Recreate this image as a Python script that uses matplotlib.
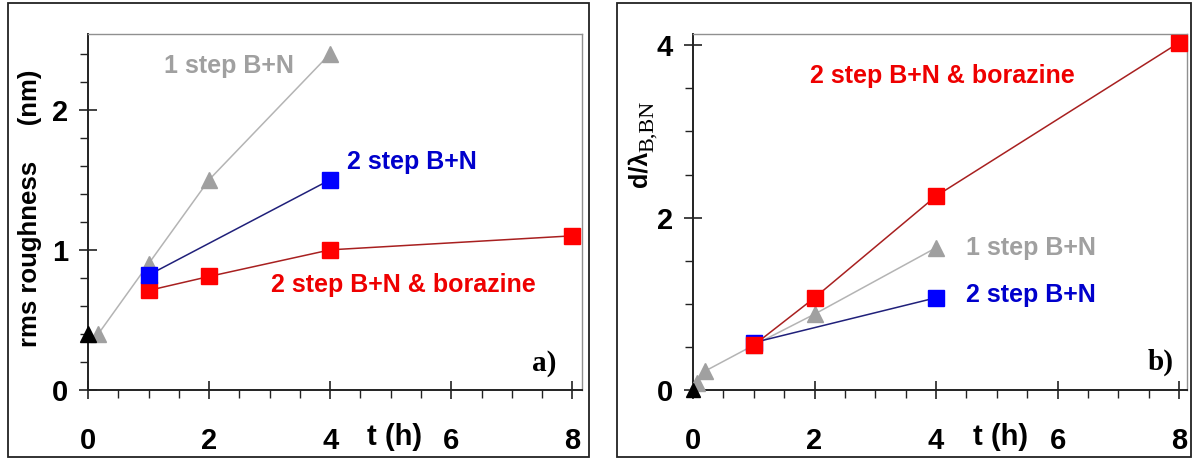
import matplotlib
matplotlib.use('Agg')
import matplotlib.pyplot as plt
from matplotlib.patches import Rectangle
from matplotlib.ticker import MultipleLocator
import matplotlib.transforms as mtransforms

# panel a) rms roughness (nm) vs t (h)
a_ref_x = [0]
a_ref_y = [0.4]
a_one_x = [0.17, 1, 2, 4]
a_one_y = [0.4, 0.9, 1.5, 2.4]
a_two_x = [1, 4]
a_two_y = [0.82, 1.5]
a_bor_x = [1, 2, 4, 8]
a_bor_y = [0.71, 0.81, 1.0, 1.1]

# panel b) d/lambda vs t (h)
b_ref_x = [0]
b_ref_y = [0.0]
b_one_x = [0.07, 0.2, 1, 2, 4]
b_one_y = [0.08, 0.22, 0.52, 0.88, 1.65]
b_two_x = [1, 4]
b_two_y = [0.55, 1.07]
b_bor_x = [1, 2, 4, 8]
b_bor_y = [0.52, 1.07, 2.25, 4.03]

xticks = [0, 2, 4, 6, 8]
label_one = '1 step B+N'
label_two = '2 step B+N'
label_bor = '2 step B+N & borazine'

GRAY = '#a0a0a0'
GRAY_LINE = '#b4b4b4'
BLUE = '#0000ff'
BLUE_LINE = '#20207a'
RED = '#ff0000'
RED_LINE = '#a82020'
SANS = ['Liberation Sans', 'DejaVu Sans']
SERIF = ['Liberation Serif', 'DejaVu Serif']

plt.rcParams['font.family'] = SANS
plt.rcParams['font.weight'] = 'bold'

W, H = 1195, 459
fig = plt.figure(figsize=(W / 100, H / 100), dpi=100)


def fx(px):
    return px / W


def fy(py):
    return 1 - py / H


# outer boxes around each panel
for x0, x1 in [(8, 589), (617, 1191)]:
    fig.patches.append(Rectangle((fx(x0), fy(457)), fx(x1 - x0), (457 - 3) / H,
                                 transform=fig.transFigure, fill=False,
                                 edgecolor='#222222', linewidth=1.3))


def style_axes(ax, xmax, ymax, ymajor, yminor):
    ax.set_xlim(0, xmax)
    ax.set_ylim(0, ymax)
    ax.set_xticks(xticks)
    ax.xaxis.set_minor_locator(MultipleLocator(0.5))
    ax.yaxis.set_major_locator(MultipleLocator(ymajor))
    ax.yaxis.set_minor_locator(MultipleLocator(yminor))
    ax.tick_params(which='major', direction='inout', length=13, width=1.2,
                   color='#222222', labelsize=21)
    ax.tick_params(which='minor', direction='out', length=6, width=1.0,
                   color='#222222')
    ax.tick_params(axis='x', which='major', pad=20)
    ax.tick_params(axis='y', which='major', pad=8)
    for s in ['top', 'right']:
        ax.spines[s].set_color('#909090')
        ax.spines[s].set_linewidth(1.0)
    for s in ['left', 'bottom']:
        ax.spines[s].set_color('#222222')
        ax.spines[s].set_linewidth(1.4)
    trans = mtransforms.blended_transform_factory(ax.transData, fig.transFigure)
    ax.text(5.06, fy(437), 't (h)', transform=trans, ha='center',
            va='center', fontsize=21)


# ---- panel a
ax1 = fig.add_axes([fx(88), fy(390), fx(582 - 88), (390 - 34) / H])
ax1.plot(a_one_x, a_one_y, '-^', color=GRAY_LINE, mfc=GRAY, mec=GRAY,
         ms=11, lw=1.1, zorder=3)
ax1.plot(a_bor_x, a_bor_y, '-s', color=RED_LINE, mfc=RED, mec=RED,
         ms=11, lw=1.1, zorder=4, clip_on=False)
ax1.plot(a_two_x, a_two_y, '-s', color=BLUE_LINE, mfc=BLUE, mec=BLUE,
         ms=11, lw=1.1, zorder=5)
ax1.plot(a_ref_x, a_ref_y, '^', color='black', ms=11, zorder=6,
         clip_on=False)
style_axes(ax1, 8.16, 2.54, 1, 0.2)
ax1.text(1.25, 2.31, label_one, color=GRAY, fontsize=18, va='center')
ax1.text(4.28, 1.63, label_two, color='#0000cc', fontsize=18, va='center')
ax1.text(3.03, 0.75, label_bor, color='#ee0000', fontsize=18, va='center')
ax1.text(7.53, 0.19, 'a)', fontsize=21, family=SERIF,
         ha='center', va='center')
fig.text(fx(30), fy(208), 'rms roughness     (nm)', rotation=90,
         fontsize=18.5, ha='center', va='center')

# ---- panel b
ax2 = fig.add_axes([fx(693), fy(390), fx(1187 - 693), (390 - 34) / H])
ax2.plot(b_one_x, b_one_y, '-^', color=GRAY_LINE, mfc=GRAY, mec=GRAY,
         ms=11, lw=1.1, zorder=3, clip_on=False)
ax2.plot(b_two_x, b_two_y, '-s', color=BLUE_LINE, mfc=BLUE, mec=BLUE,
         ms=11, lw=1.1, zorder=4)
ax2.plot(b_bor_x, b_bor_y, '-s', color=RED_LINE, mfc=RED, mec=RED,
         ms=11, lw=1.1, zorder=5, clip_on=False)
ax2.plot(b_ref_x, b_ref_y, '^', color='black', ms=10, zorder=6,
         clip_on=False)
style_axes(ax2, 8.13, 4.13, 2, 0.5)
ax2.text(1.92, 3.64, label_bor, color='#ee0000', fontsize=18, va='center')
ax2.text(4.5, 1.65, label_one, color=GRAY, fontsize=18, va='center')
ax2.text(4.5, 1.1, label_two, color='#0000cc', fontsize=18, va='center')
ax2.text(7.7, 0.32, 'b)', fontsize=21, family=SERIF,
         ha='center', va='center')
fig.text(fx(640), fy(169), 'd/λ', rotation=90, fontsize=18,
         ha='center', va='center')
fig.text(fx(648), fy(126), 'B,BN', rotation=90, fontsize=16,
         family=SERIF, fontweight='normal', ha='center', va='center')

fig.savefig('out.png', dpi=100)
